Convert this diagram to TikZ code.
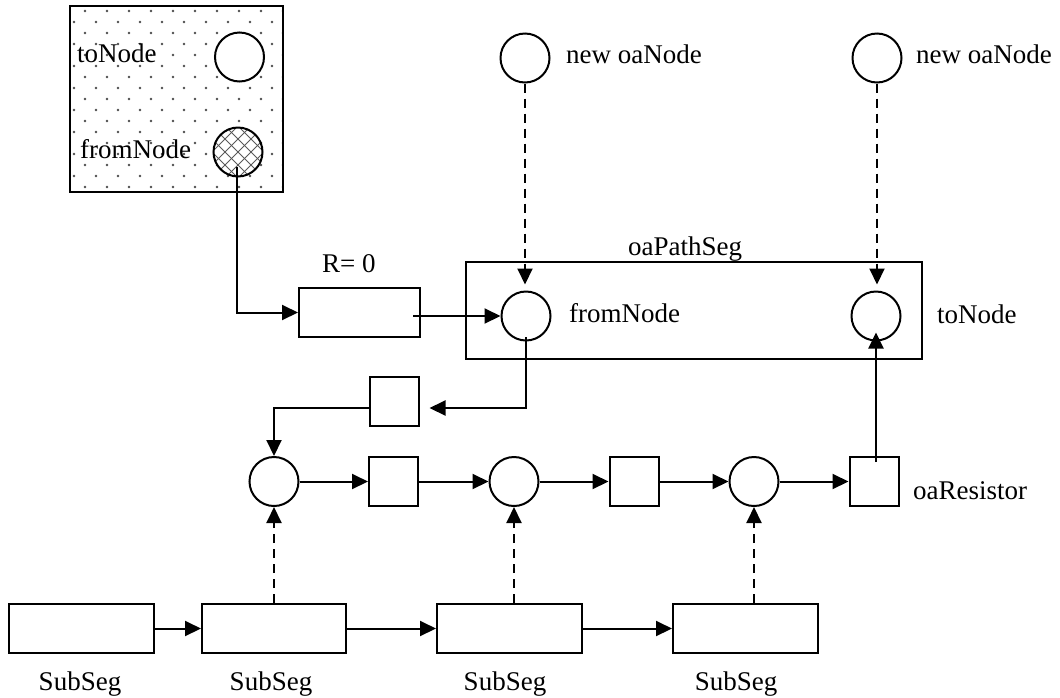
\documentclass[tikz,border=0pt]{standalone}
\usepackage{fontspec}
\setmainfont{Liberation Serif}
\usetikzlibrary{arrows.meta}
\begin{document}
\begin{tikzpicture}[x=1pt,y=-1pt,
  lw/.style={line width=2pt},
  circ/.style={circle,draw,line width=2pt,minimum size=49pt,inner sep=0pt},
  sq/.style={rectangle,draw,line width=2pt,minimum width=49pt,minimum height=49pt,inner sep=0pt},
  seg/.style={rectangle,draw,line width=2pt,minimum width=145pt,minimum height=49pt,inner sep=0pt},
  lbl/.style={inner sep=0pt,font=\fontsize{27}{32}\selectfont},
  arr/.style={line width=2pt,-{Triangle[length=16pt,width=15pt]}},
  darr/.style={arr,dash pattern=on 9pt off 6pt},
]
\useasboundingbox (0,0) rectangle (1060,697);

% dotted box
\begin{scope}
  \clip (71,7) rectangle (282,191);
  \foreach \j in {0,...,8} {
    \foreach \i in {0,...,10} {
      \fill[black!70] (63+22*\i, 11+22*\j) circle (1.4pt);
      \fill[black!70] (74+22*\i, 22+22*\j) circle (1.4pt);
    }
  }
\end{scope}
\node[rectangle,draw,line width=2pt,minimum width=213pt,minimum height=186pt,inner sep=0pt] (dbox) at (176.5,99) {};
\node[circ,fill=white] (tn0) at (239.5,57) {};
\fill[white] (238,152) circle (24.5pt);
\begin{scope}
  \clip (238,152) circle (24.5pt);
  \foreach \k in {-5,...,5} {
    \draw[line width=1pt,black!65] (238+13*\k-30,122) -- (238+13*\k+30,182);
    \draw[line width=1pt,black!65] (238+13*\k+30,122) -- (238+13*\k-30,182);
  }
\end{scope}
\node[circ] (fn0) at (238,152) {};
\node[lbl,anchor=base west] (tn0l) at (77,62) {toNode};
\node[lbl,anchor=base west] (fn0l) at (80,158) {fromNode};

% R=0 resistor
\node[rectangle,draw,lw,minimum width=121pt,minimum height=49pt,inner sep=0pt] (r0) at (359.5,312.5) {};
\node[lbl,anchor=base west] (r0l) at (322,272) {R= 0};
\coordinate (fstart) at (237,167);
\draw[arr] (fstart) |- (r0.west);

% new oaNodes
\node[circ] (nn1) at (525,58) {};
\node[circ] (nn2) at (877,58) {};
\node[lbl,anchor=base west] (nn1l) at (566,63) {new oaNode};
\node[lbl,anchor=base west] (nn2l) at (916,63) {new oaNode};

% oaPathSeg
\node[rectangle,draw,lw,minimum width=456pt,minimum height=97pt,inner sep=0pt] (ps) at (694,310.5) {};
\node[lbl,anchor=base west] (psl) at (628,255) {oaPathSeg};
\node[circ] (fn1) at (526,316) {};
\node[circ] (tn1) at (876,316) {};
\node[lbl,anchor=base west] (fn1l) at (569,322) {fromNode};
\node[lbl,anchor=base west] (tn1l) at (937,323) {toNode};

\draw[darr,shorten >=6pt] (nn1.south) -- (nn1.south |- fn1.north);
\draw[darr,shorten >=6pt] (nn2.south) -- (nn2.south |- tn1.north);

\coordinate (r0out) at (413,316);
\draw[arr] (r0out) -- (fn1.west);

% small square and its links
\node[sq] (sqA) at (394,401.5) {};
\coordinate (fn1out) at (526,337);
\coordinate (c1) at (526,408);
\draw[arr,shorten >=10pt] (fn1out) -- (c1) -- (c1 -| sqA.east);

% middle row
\node[circ] (m1) at (274,481.5) {};
\node[sq] (s1) at (393.5,481.5) {};
\node[circ] (m2) at (514,481.5) {};
\node[sq] (s2) at (634,481.5) {};
\node[circ] (m3) at (754,481.5) {};
\node[sq] (res) at (874,481.5) {};
\node[lbl,anchor=base west] (resl) at (913,499) {oaResistor};

\draw[arr] (c1 -| sqA.west) -| (m1.north);
\draw[arr] (m1) -- (s1);
\draw[arr] (s1) -- (m2);
\draw[arr] (m2) -- (s2);
\draw[arr] (s2) -- (m3);
\draw[arr] (m3) -- (res);

\coordinate (resin) at (876,462);
\draw[arr,shorten >=-9pt] (resin) -- (resin |- tn1.south);

% SubSeg row
\node[seg] (b1) at (81.5,628.5) {};
\node[seg,minimum width=144pt] (b2) at (274,628.5) {};
\node[seg] (b3) at (509.5,628.5) {};
\node[seg] (b4) at (745.5,628.5) {};
\draw[arr] (b1) -- (b2);
\draw[arr] (b2) -- (b3);
\draw[arr] (b3) -- (b4);
\draw[darr] (m1 |- b2.north) -- (m1.south);
\draw[darr] (m2 |- b3.north) -- (m2.south);
\draw[darr] (m3 |- b4.north) -- (m3.south);

\node[lbl,anchor=base] (b1l) at (80,690) {SubSeg};
\node[lbl,anchor=base] (b2l) at (271,690) {SubSeg};
\node[lbl,anchor=base] (b3l) at (505,690) {SubSeg};
\node[lbl,anchor=base] (b4l) at (736,690) {SubSeg};
\end{tikzpicture}
\end{document}
